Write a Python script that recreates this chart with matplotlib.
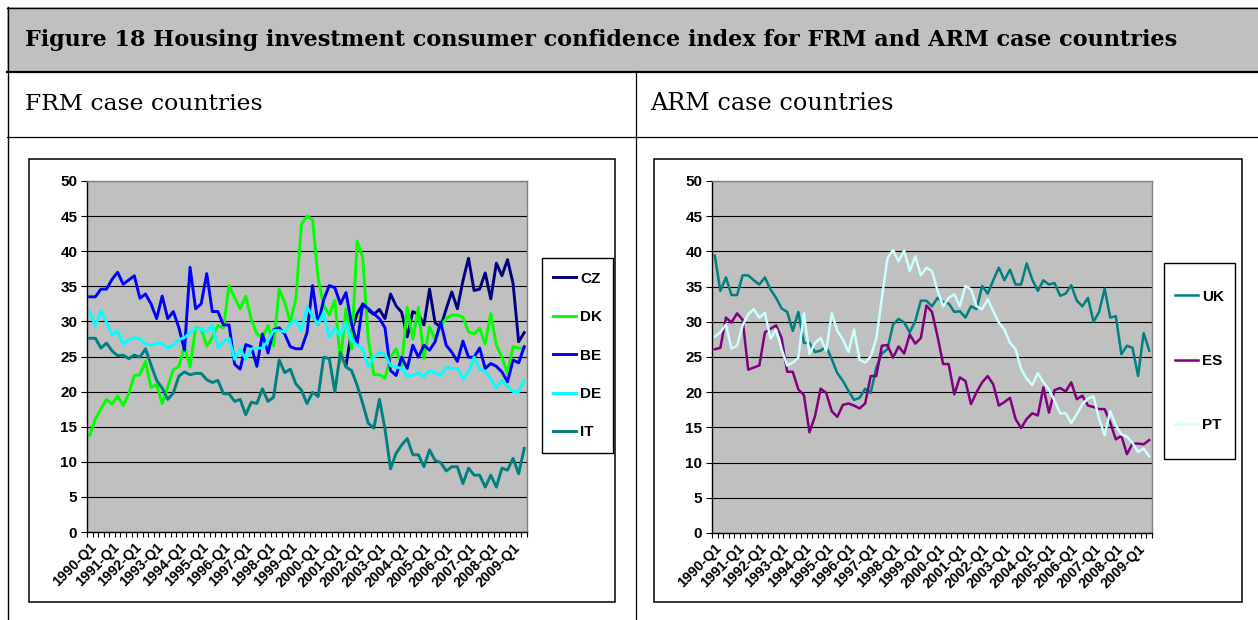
import numpy as np
import matplotlib
matplotlib.use("Agg")
import matplotlib.pyplot as plt
import matplotlib.transforms as mtransforms
from matplotlib.lines import Line2D
from matplotlib.patches import Rectangle

W, H = 1258, 620

title = "Figure 18 Housing investment consumer confidence index for FRM and ARM case countries"
left_head = "FRM case countries"
right_head = "ARM case countries"

# quarters 1990-Q1 .. 2009-Q3, every 4th one is labelled
quarters = [f"{y}-Q{q}" for y in range(1990, 2010) for q in range(1, 5)][:79]

# FRM case countries
nan = np.nan
cz = [nan] * 46 + [
    23.7, 28.6, 31.1, 32.4, 31.6, 31.0, 31.7, 30.4, 33.9, 32.2,
    31.3, 27.8, 31.4, 31.0, 29.5, 34.6, 29.8, 29.2, 31.8, 34.2,
    31.8, 35.8, 39.0, 34.4, 34.6, 36.9, 33.2, 38.3, 36.5, 38.8,
    35.4, 27.1, 28.4]
dk = [13.8, 16.1, 17.5, 18.9, 18.2, 19.4, 18.0, 19.7, 22.3, 22.4,
      24.3, 20.6, 21.0, 18.3, 20.7, 23.1, 23.6, 26.5, 23.5, 29.1,
      28.9, 26.5, 27.7, 29.4, 29.1, 35.1, 33.4, 31.8, 33.6, 30.3,
      28.2, 27.7, 29.4, 26.5, 34.6, 32.7, 29.9, 33.2, 43.8, 45.0,
      44.5, 36.1, 32.3, 30.9, 33.0, 24.2, 31.8, 26.1, 41.4, 39.1,
      27.5, 22.4, 22.4, 21.9, 24.9, 26.1, 23.7, 32.0, 27.5, 32.0,
      24.7, 29.2, 27.5, 29.4, 30.4, 30.9, 30.9, 30.6, 28.5, 28.2,
      29.0, 26.8, 31.1, 26.6, 24.9, 22.6, 26.4, 26.2, 26.2]
be = [33.5, 33.5, 34.6, 34.6, 36.0, 37.0, 35.3, 35.9, 36.5, 33.3,
      33.9, 32.5, 30.4, 33.6, 30.4, 31.4, 29.1, 25.9, 37.7, 31.8,
      32.5, 36.8, 31.4, 31.4, 29.5, 29.5, 23.9, 23.2, 26.7, 26.4,
      23.6, 28.2, 25.5, 28.8, 29.1, 28.2, 26.4, 26.1, 26.1, 28.4,
      35.1, 29.6, 33.1, 35.1, 34.8, 32.5, 34.1, 29.7, 26.8, 32.5,
      31.8, 31.1, 30.4, 29.1, 23.0, 22.3, 24.9, 23.3, 26.6, 24.9,
      26.6, 25.9, 27.1, 29.9, 26.6, 25.6, 24.3, 27.2, 24.9, 24.9,
      26.2, 23.3, 24.0, 23.6, 22.8, 21.4, 24.5, 24.1, 26.4]
de = [31.3, 29.4, 31.5, 29.9, 28.1, 28.6, 26.8, 27.3, 27.7, 27.5,
      26.8, 26.6, 26.9, 26.9, 26.2, 26.6, 27.4, 27.7, 28.4, 29.0,
      28.9, 28.5, 29.5, 26.3, 27.0, 27.6, 24.6, 26.1, 24.6, 26.1,
      26.2, 26.2, 27.3, 28.7, 28.7, 28.5, 29.6, 30.2, 28.7, 32.0,
      30.8, 29.6, 31.3, 27.7, 29.0, 28.0, 29.9, 27.3, 26.6, 26.1,
      23.5, 24.9, 25.6, 25.3, 23.7, 23.5, 23.3, 22.2, 22.3, 22.7,
      22.1, 23.0, 22.7, 22.3, 23.5, 23.3, 23.3, 21.8, 22.8, 24.9,
      23.2, 22.9, 21.8, 20.5, 21.6, 20.7, 20.0, 20.0, 21.6]
it = [27.6, 27.6, 26.2, 26.9, 25.8, 25.1, 25.2, 24.7, 25.2, 24.9,
      26.1, 23.8, 21.6, 20.5, 18.9, 19.8, 22.2, 22.8, 22.4, 22.6,
      22.6, 21.7, 21.3, 21.6, 19.7, 19.7, 18.6, 18.9, 16.7, 18.5,
      18.3, 20.4, 18.6, 19.2, 24.5, 22.7, 23.2, 21.1, 20.2, 18.3,
      19.9, 19.3, 24.9, 24.7, 20.0, 25.6, 23.5, 23.0, 20.9, 18.3,
      15.5, 14.8, 18.9, 14.7, 9.0, 11.2, 12.4, 13.3, 11.0, 11.0,
      9.3, 11.7, 10.2, 9.9, 8.7, 9.3, 9.3, 6.9, 9.1, 8.1,
      8.1, 6.4, 8.1, 6.4, 9.1, 8.8, 10.5, 8.3, 11.9]

# ARM case countries
uk = [39.4, 34.4, 36.3, 33.8, 33.8, 36.6, 36.6, 35.9, 35.3, 36.3,
      34.6, 33.4, 31.9, 31.4, 28.7, 31.4, 27.0, 27.0, 25.7, 25.9,
      26.5, 24.7, 22.7, 21.6, 20.2, 18.9, 19.2, 20.5, 19.9, 23.5,
      25.5, 26.1, 29.6, 30.4, 29.9, 28.5, 30.1, 33.0, 33.0, 32.2,
      33.4, 32.8, 32.6, 31.4, 31.5, 30.6, 32.2, 31.8, 35.1, 34.0,
      35.9, 37.7, 35.9, 37.4, 35.3, 35.3, 38.3, 36.0, 34.4, 35.9,
      35.3, 35.5, 33.7, 34.0, 35.2, 33.0, 32.2, 33.4, 30.0, 31.4,
      34.7, 30.6, 30.8, 25.4, 26.6, 26.3, 22.3, 28.4, 25.9]
es = [26.1, 26.3, 30.6, 29.9, 31.2, 30.3, 23.2, 23.5, 23.8, 28.5,
      29.0, 29.5, 27.7, 22.9, 22.9, 20.4, 19.6, 14.3, 16.6, 20.5,
      19.9, 17.3, 16.5, 18.2, 18.4, 18.1, 17.7, 18.4, 22.3, 22.3,
      26.6, 26.7, 24.9, 26.5, 25.5, 28.2, 26.9, 27.7, 32.3, 31.4,
      27.9, 24.0, 24.0, 19.7, 22.1, 21.6, 18.3, 20.0, 21.4, 22.3,
      21.1, 18.1, 18.6, 19.2, 16.2, 14.9, 16.2, 17.0, 16.7, 20.7,
      17.1, 20.3, 20.6, 20.1, 21.4, 19.0, 19.5, 18.1, 17.9, 17.6,
      17.6, 15.7, 13.3, 13.8, 11.2, 12.7, 12.7, 12.6, 13.2]
pt = [27.9, 28.5, 29.6, 26.2, 26.6, 29.5, 31.1, 31.8, 30.6, 31.3,
      27.6, 28.9, 26.1, 23.8, 24.2, 24.9, 31.2, 25.4, 27.0, 27.7,
      25.9, 31.2, 28.7, 27.5, 25.7, 28.9, 24.6, 24.2, 25.1, 27.6,
      33.4, 39.0, 40.2, 38.6, 40.1, 37.2, 39.3, 36.6, 37.7, 37.2,
      34.4, 32.2, 33.4, 33.9, 32.2, 35.1, 34.6, 32.2, 31.8, 33.2,
      31.5, 29.9, 28.9, 27.0, 26.1, 23.3, 21.9, 21.0, 22.7, 21.4,
      20.4, 18.8, 17.0, 17.0, 15.6, 16.9, 18.3, 19.1, 19.4, 16.2,
      13.9, 17.3, 15.3, 14.0, 13.7, 12.8, 11.5, 12.0, 10.9]

frm_series = [("CZ", cz, "#000080"), ("DK", dk, "#00FF00"), ("BE", be, "#0000FF"),
              ("DE", de, "#00FFFF"), ("IT", it, "#008080")]
arm_series = [("UK", uk, "#008080"), ("ES", es, "#800080"), ("PT", pt, "#CCFFFF")]


def fx(px):
    return px / W


def fy(py):
    return 1 - py / H


fig = plt.figure(figsize=(W / 100, H / 100), dpi=100)
fig.patch.set_facecolor("white")


def line(x0, y0, x1, y1, lw=1.0):
    fig.add_artist(Line2D([fx(x0), fx(x1)], [fy(y0), fy(y1)], color="black", lw=lw))


def box(x0, y0, x1, y1, fc="none", lw=1.0, z=0):
    fig.add_artist(Rectangle((fx(x0), fy(y1)), (x1 - x0) / W, (y1 - y0) / H,
                             transform=fig.transFigure, facecolor=fc,
                             edgecolor="black" if lw else "none", lw=lw, zorder=z))


# table around the figure
box(7, 7, 1262, 71, fc="#C0C0C0", lw=0)
line(7, 7.5, 1258, 7.5, 1.0)
line(7, 71.5, 1258, 71.5, 1.6)
line(7, 137, 1258, 137, 0.9)
line(7.5, 7, 7.5, 620, 1.0)
line(635.5, 71, 635.5, 620, 0.9)

fig.canvas.draw()
renderer = fig.canvas.get_renderer()


def fit_text(x, y, s, target, weight="normal"):
    t = fig.text(fx(x), fy(y), s, ha="left", va="center", fontsize=16,
                 family="DejaVu Serif", fontweight=weight)
    w = t.get_window_extent(renderer).width
    t.set_fontsize(16 * target / w)
    return t


fit_text(25, 40, title, 1158, "bold")
fit_text(25, 104, left_head, 238)
fit_text(650, 104, right_head, 243)

# nudge the slanted quarter labels a little left and down
label_shift = mtransforms.ScaledTranslation(-4 / 100, -2 / 100, fig.dpi_scale_trans)


def panel(frame, plot, legend, series, lw, pitch):
    box(*frame, lw=1.1)
    x0, y0, x1, y1 = plot
    ax = fig.add_axes([fx(x0), fy(y1), (x1 - x0) / W, (y1 - y0) / H])
    ax.set_facecolor("#C0C0C0")
    x = np.arange(len(quarters))
    handles = []
    for name, vals, col in series:
        h, = ax.plot(x, vals, color=col, lw=lw, label=name)
        handles.append(h)
    ax.set_xlim(-0.5, len(quarters) - 0.5)
    ax.set_ylim(0, 50)
    ax.set_yticks(np.arange(0, 51, 5))
    ax.yaxis.grid(True, color="black", lw=0.8)
    ax.set_axisbelow(True)
    for s in ("top", "right"):
        ax.spines[s].set_color("#808080")
        ax.spines[s].set_linewidth(1.0)
    for s in ("left", "bottom"):
        ax.spines[s].set_color("black")
        ax.spines[s].set_linewidth(1.0)
    major = np.arange(0, len(quarters), 4)
    ax.set_xticks(major)
    ax.set_xticklabels([quarters[i] for i in major], rotation=45, ha="right",
                       va="top", rotation_mode="anchor", fontsize=10.3,
                       family="Liberation Sans", fontweight="bold")
    for lab in ax.get_xticklabels():
        lab.set_transform(lab.get_transform() + label_shift)
    ax.set_xticks(np.arange(-0.5, len(quarters), 1), minor=True)
    ax.tick_params(axis="x", which="major", length=0, pad=6)
    ax.tick_params(axis="x", which="minor", length=3.5, width=0.8, color="black")
    ax.tick_params(axis="y", length=4, width=0.8, color="black", pad=3)
    for lab in ax.get_yticklabels():
        lab.set_fontsize(11)
        lab.set_family("Liberation Sans")
        lab.set_fontweight("bold")

    lx0, ly0, lx1, ly1 = legend
    box(lx0, ly0, lx1, ly1, fc="white", lw=1.0, z=2)
    fs = 11
    fpx = fs * 100 / 72
    ls = (pitch - 0.92 * fpx) / fpx
    leg = fig.legend(handles=handles, loc="center", frameon=False,
                     bbox_to_anchor=(fx(lx0), fy(ly1), (lx1 - lx0) / W, (ly1 - ly0) / H),
                     bbox_transform=fig.transFigure, labelspacing=ls,
                     handlelength=1.5, handletextpad=0.3, borderpad=0,
                     prop=dict(family="Liberation Sans", weight="bold", size=fs))
    leg.set_zorder(5)
    return ax


panel((29, 159, 615, 602), (87, 181, 527, 532), (542, 258, 613, 453), frm_series, 2.1, 38.5)
panel((654, 159, 1242, 602), (712, 181, 1152, 533), (1164, 263, 1235, 459), arm_series, 1.8, 64.5)

fig.savefig("out.png", dpi=100, facecolor="white")
